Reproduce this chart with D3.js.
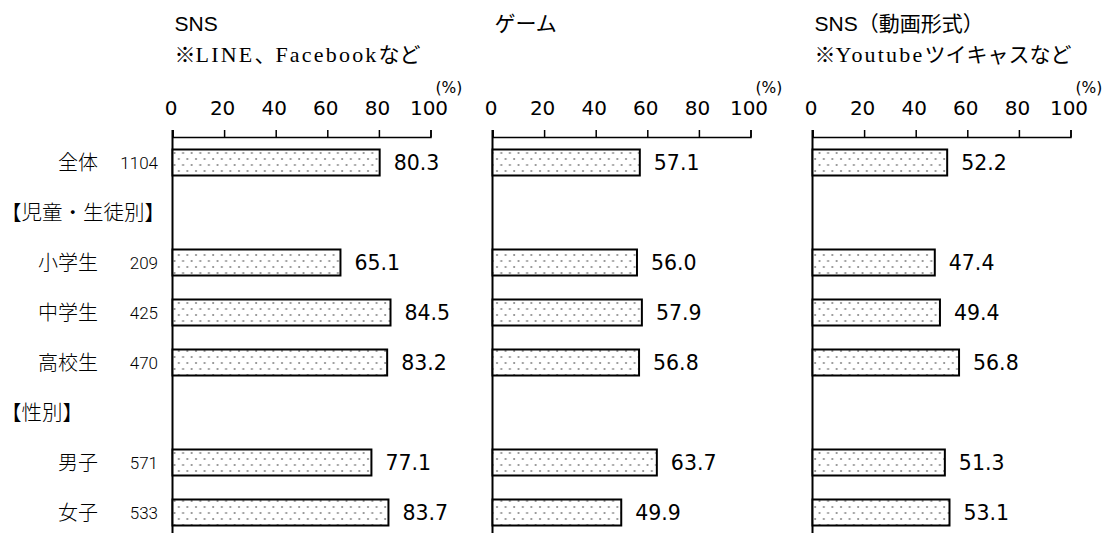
<!DOCTYPE html>
<html>
<head>
<meta charset="utf-8">
<script src="https://cdn.jsdelivr.net/npm/d3@7"></script>
<style>
  body { margin: 0; background: #fff; }
  svg { display: block; }
  .axis text { font-family: "DejaVu Sans", sans-serif; font-size: 20px; fill: #000; }
  .axis path, .axis line { stroke: #000; stroke-width: 1.5; }
</style>
</head>
<body>
<div class="mainviz"></div>
<script>
var categories = ["全体", "【児童・生徒別】", "小学生", "中学生", "高校生", "【性別】", "男子", "女子"];
var isHeader = [false, true, false, false, false, true, false, false];
var counts = [1104, null, 209, 425, 470, null, 571, 533];

var panelTitles = ["SNS", "ゲーム", "SNS（動画形式）"];
var panelSubtitles = ["※LINE、Facebookなど", "", "※Youtubeツイキャスなど"];

var snsValues = [80.3, null, 65.1, 84.5, 83.2, null, 77.1, 83.7];
var gameValues = [57.1, null, 56.0, 57.9, 56.8, null, 63.7, 49.9];
var videoValues = [52.2, null, 47.4, 49.4, 56.8, null, 51.3, 53.1];

var tickValues = [0, 20, 40, 60, 80, 100];
var unitLabel = "(%)";

var width = 1110, height = 533;
var panelLeft = [172.5, 492.5, 812.5];
var panelWidth = 258;
var axisY = 137;

var svg = d3.select(".mainviz").append("svg")
	.attr("width", width)
	.attr("height", height);

// dotted fill for the bars
var pat = svg.append("defs").append("pattern")
	.attr("id", "dots")
	.attr("patternUnits", "userSpaceOnUse")
	.attr("width", 8.6)
	.attr("height", 12)
	.attr("x", 0).attr("y", 150);
pat.append("rect").attr("width", 8.6).attr("height", 12).attr("fill", "#fff");
pat.append("circle").attr("cx", 2.5).attr("cy", 3).attr("r", 1.1).attr("fill", "#8c8c8c");
pat.append("circle").attr("cx", 6.8).attr("cy", 9).attr("r", 1.1).attr("fill", "#8c8c8c");

var y = d3.scaleBand()
	.domain(categories)
	.range([axisY + 0.5, axisY + 400.5])
	.paddingInner(0.48)
	.paddingOuter(0.24);

// row labels and n
svg.selectAll("text.cat")
	.data(categories)
	.enter().append("text")
	.attr("class", "cat")
	.attr("x", function(d, i){ return isHeader[i] ? 1 : 98; })
	.attr("y", function(d){ return y(d) + y.bandwidth() / 2; })
	.attr("dy", "0.36em")
	.attr("text-anchor", function(d, i){ return isHeader[i] ? "start" : "end"; })
	.style("font-family", "'Noto Sans CJK JP', sans-serif")
	.style("font-weight", 300)
	.style("font-size", function(d, i){ return isHeader[i] ? "20.5px" : "20px"; })
	.text(function(d){ return d; });

svg.selectAll("text.count")
	.data(counts)
	.enter().append("text")
	.filter(function(d){ return d != null; })
	.attr("class", "count")
	.attr("x", 158)
	.attr("y", function(d){ return y(categories[counts.indexOf(d)]) + y.bandwidth() / 2; })
	.attr("dy", "0.36em")
	.attr("text-anchor", "end")
	.style("font-family", "Roboto, sans-serif")
	.style("font-weight", 300)
	.style("font-size", "17px")
	.text(function(d){ return d; });

var allValues = [snsValues, gameValues, videoValues];

allValues.forEach(function(values, p) {
	var x = d3.scaleLinear()
		.domain([0, 100])
		.range([panelLeft[p], panelLeft[p] + panelWidth]);

	var g = svg.append("g");

	g.append("text")
		.attr("x", panelLeft[p] + 2)
		.attr("y", 30.5)
		.style("font-family", "'Liberation Sans', 'Noto Sans CJK JP', sans-serif")
		.style("font-size", "21px")
		.text(panelTitles[p]);

	if (panelSubtitles[p]) {
		// latin runs are set wider, like the Mincho face in the original
		var sub = g.append("text")
			.attr("x", panelLeft[p] + 2)
			.attr("y", 61.5)
			.style("font-family", "'Liberation Serif', 'Noto Sans CJK JP', serif")
			.style("font-size", "21px");
		panelSubtitles[p].split(/([A-Za-z]+)/).forEach(function(part) {
			if (!part) return;
			var t = sub.append("tspan").text(part);
			if (/^[A-Za-z]+$/.test(part)) {
				t.style("font-size", "22px").style("letter-spacing", "2.2px");
			}
		});
	}

	g.append("text")
		.attr("x", x(100) + 5)
		.attr("y", 93)
		.style("font-family", "'DejaVu Sans', sans-serif")
		.style("font-size", "15.5px")
		.text(unitLabel);

	var xAxis = d3.axisTop(x)
		.tickValues(tickValues)
		.tickSize(7)
		.tickPadding(15)
		.tickSizeOuter(7)
		.tickFormat(d3.format("d"));

	g.append("g")
		.attr("class", "axis")
		.attr("transform", "translate(0," + axisY + ")")
		.call(xAxis)
		.selectAll("text")
		.attr("dx", "-2");

	g.append("line")
		.attr("x1", x(0)).attr("x2", x(0))
		.attr("y1", axisY - 7).attr("y2", height)
		.attr("stroke", "#000")
		.attr("stroke-width", 2);

	var rows = categories.map(function(c, i){ return { cat: c, v: values[i] }; })
		.filter(function(d){ return d.v != null; });

	g.selectAll("rect.bar")
		.data(rows)
		.enter().append("rect")
		.attr("class", "bar")
		.attr("x", x(0))
		.attr("y", function(d){ return y(d.cat); })
		.attr("width", function(d){ return x(d.v) - x(0); })
		.attr("height", y.bandwidth())
		.attr("fill", "url(#dots)")
		.attr("stroke", "#000")
		.attr("stroke-width", 2);

	g.selectAll("text.val")
		.data(rows)
		.enter().append("text")
		.attr("class", "val")
		.attr("x", function(d){ return x(d.v) + 14; })
		.attr("y", function(d){ return y(d.cat) + y.bandwidth() / 2; })
		.attr("dy", "0.36em")
		.style("font-family", "'DejaVu Sans', sans-serif")
		.style("font-size", "20.5px")
		.text(function(d){ return d3.format(".1f")(d.v); });
});
</script>
</body>
</html>
